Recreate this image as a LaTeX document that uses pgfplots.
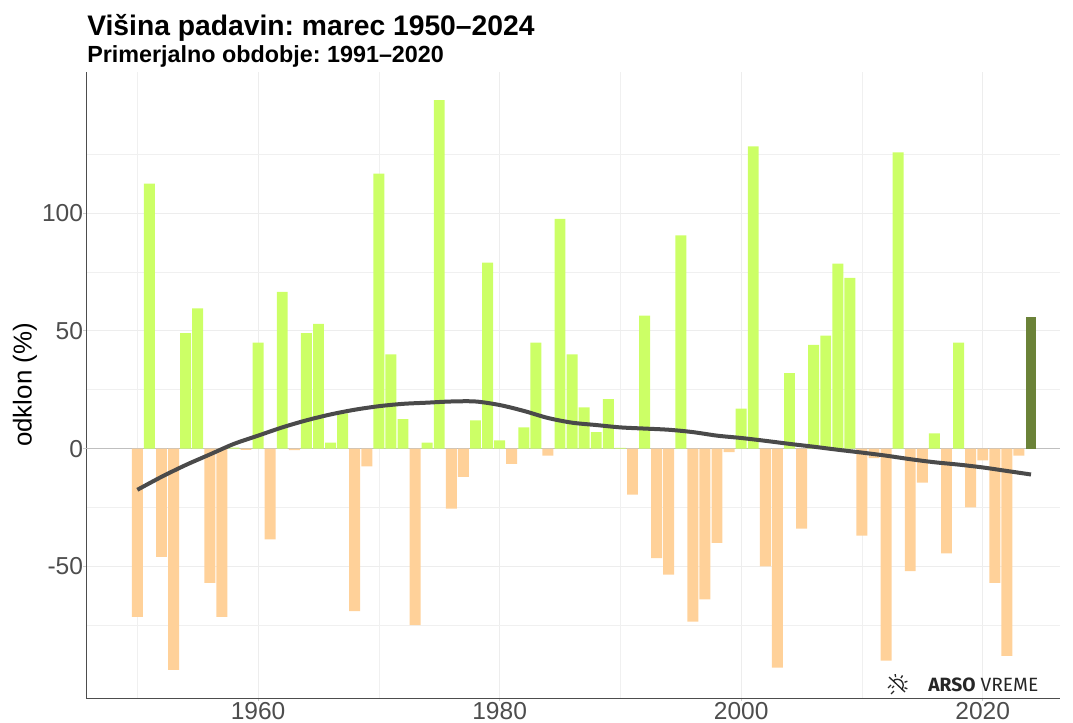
\documentclass[border=0pt]{standalone}
\usepackage{pgfplots}
\pgfplotsset{compat=1.18}
\usepackage{fontspec}
\setmainfont{Liberation Sans}
\newfontfamily\logofont{Fira Sans}
\definecolor{posc}{HTML}{CCFF66}
\definecolor{negc}{HTML}{FFD199}
\definecolor{lastc}{HTML}{6B8238}
\definecolor{linec}{HTML}{4A4A4A}
\definecolor{tickc}{HTML}{4D4D4D}
\pgfplotstableread{
year val
1950 -71.5
1952 -46
1953 -94
1956 -57
1957 -71.5
1959 -0.5
1961 -38.5
1963 -0.7
1968 -69
1969 -7.5
1973 -75
1976 -25.5
1977 -12
1981 -6.5
1984 -3
1991 -19.5
1993 -46.5
1994 -53.5
1996 -73.5
1997 -64
1998 -40
1999 -1.5
2002 -50
2003 -93
2005 -34
2010 -37
2011 -4
2012 -90
2014 -52
2015 -14.5
2017 -44.5
2019 -25
2020 -5
2021 -57
2022 -88
2023 -3
}\negdata
\pgfplotstableread{
year val
1951 112.5
1954 49
1955 59.5
1958 0.4
1960 45
1962 66.5
1964 49
1965 53
1966 2.5
1967 15
1970 116.8
1971 40
1972 12.5
1974 2.5
1975 148
1978 12
1979 79
1980 3.5
1982 9
1983 45
1985 97.5
1986 40
1987 17.5
1988 7
1989 21
1990 0.3
1992 56.5
1995 90.5
2000 17
2001 128.3
2004 32
2006 44
2007 48
2008 78.5
2009 72.5
2013 125.8
2016 6.5
2018 45
}\posdata
\pgfplotstableread{
year val
2024 56
}\lastdata
\pgfplotstableread{
year val
1950 -17.5
1952 -12
1954 -7
1956 -2.5
1958 2
1960 5.5
1962 9
1964 12
1966 14.5
1968 16.5
1970 18
1972 19
1974 19.5
1976 20
1978 20
1980 18.5
1982 16
1984 13
1986 11
1988 10
1990 9
1992 8.5
1994 8
1996 7
1998 5.5
2000 4.5
2002 3.3
2004 2
2006 0.8
2008 -0.5
2010 -1.7
2012 -3
2014 -4.5
2016 -5.8
2018 -6.8
2020 -8
2022 -9.5
2024 -11
}\smoothdata
\begin{document}
\frenchspacing
\begin{tikzpicture}[x=0.75pt,y=0.75pt]
\useasboundingbox (0,0) rectangle (1073,722);
\begin{axis}[
  at={(64.5pt,18pt)},anchor=south west,
  scale only axis,width=730.5pt,height=469.5pt,
  xmin=1945.75,xmax=2026.4,ymin=-105.9,ymax=159.9,
  axis x line=bottom,axis y line=left,
  axis line style={draw=tickc,line width=0.7pt,-},
  xtick={1960,1980,2000,2020},
  minor xtick={1950,1970,1990,2010},
  ytick={-50,0,50,100},
  minor ytick={-75,-25,25,75,125},
  grid=both,
  major grid style={draw=black!7,line width=0.6pt},
  minor grid style={draw=black!6,line width=0.4pt},
  tick align=outside,
  major tick length=2pt,minor tick length=0pt,
  tick style={draw=black!20,line width=0.5pt},
  tick label style={font=\fontsize{18.4}{20}\selectfont,text=tickc},
  /pgf/number format/assume math mode=true,
  /pgf/number format/1000 sep={},
  xticklabel style={yshift=2.5pt},
  yticklabel style={xshift=3.3pt},
  ylabel={odklon (\%)},
  every axis y label/.style={at={(axis description cs:-0.0627,0.5)},rotate=90,anchor=center},
  ylabel style={font=\fontsize{19.4}{22}\selectfont,text=black},
  ybar,bar width=8.2pt,bar shift=0pt,
  clip=true,
]
\draw[draw=black!25,line width=0.8pt] (axis cs:1945.75,0) -- (axis cs:2026.4,0);
\addplot[fill=negc,draw=none] table[x=year,y=val]{\negdata};
\addplot[fill=posc,draw=none] table[x=year,y=val]{\posdata};
\addplot[fill=lastc,draw=none] table[x=year,y=val]{\lastdata};
\addplot[sharp plot,draw=linec,line width=3pt,smooth,mark=none] table[x=year,y=val]{\smoothdata};
\end{axis}
\node[anchor=base west,inner sep=0,font=\bfseries\fontsize{21.2}{24}\selectfont] at (87,686) {Višina padavin: marec 1950–2024};
\node[anchor=base west,inner sep=0,font=\bfseries\fontsize{17.5}{19}\selectfont] at (87,659) {Primerjalno obdobje: 1991–2020};
\node[anchor=base west,inner sep=0,font=\logofont\fontsize{14.4}{15}\selectfont,text=black!85] at (928,31) {\textbf{ARSO} VREME};
\begin{scope}[shift={(897,37)},draw=black!85,line width=1pt]
\draw (-4,4) arc[start angle=135,end angle=-45,radius=6];
\draw (-8,8) -- (8,-7);
\foreach \a in {100,60,20,-20} \draw (\a:8) -- (\a:11);
\draw (-9,-3) -- (-6,0) (-6,-9) -- (-3,-6) (-5,-3) -- (-3,-1);
\end{scope}
\end{tikzpicture}
\end{document}
